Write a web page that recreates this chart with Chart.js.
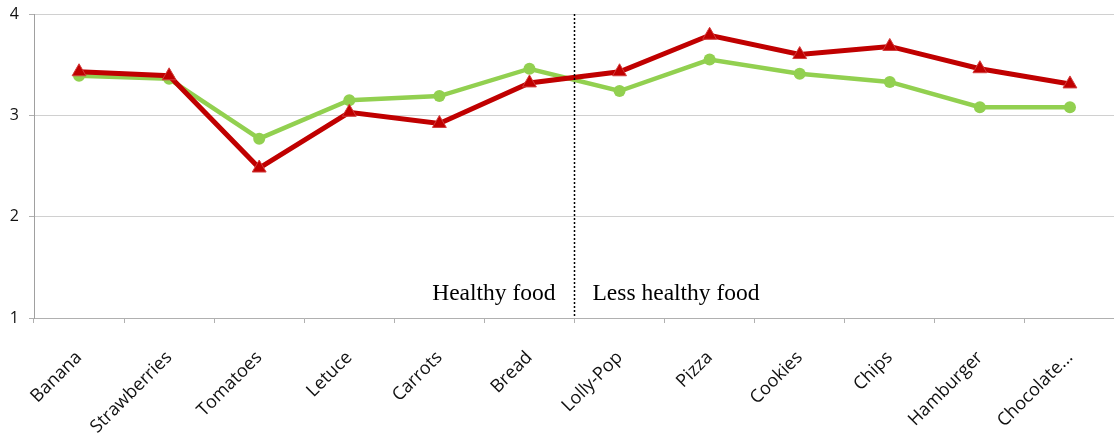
<!DOCTYPE html>
<html>
<head>
<meta charset="utf-8">
<script src="https://cdn.jsdelivr.net/npm/chart.js@4/dist/chart.umd.min.js"></script>
<style>
	html, body { margin: 0; padding: 0; background: #fff; overflow: hidden; }
	#box { width: 1114px; height: 437px; overflow: hidden; }
	#grafico { display: block; }
</style>
</head>
<body>
<div id="box"><canvas id="grafico" width="1124" height="437"></canvas></div>
<script>
var alimentos = ['Banana', 'Strawberries', 'Tomatoes', 'Letuce', 'Carrots', 'Bread',
	'Lolly-Pop', 'Pizza', 'Cookies', 'Chips', 'Hamburger', 'Chocolate...'];
var serieVerde = [3.39, 3.36, 2.77, 3.15, 3.19, 3.46, 3.24, 3.55, 3.41, 3.33, 3.08, 3.08];
var serieVermelha = [3.43, 3.39, 2.48, 3.03, 2.92, 3.32, 3.43, 3.79, 3.60, 3.68, 3.46, 3.31];
var ticksY = [1, 2, 3, 4];
var grupos = ['Healthy food', 'Less healthy food'];
var ultimoSaudavel = 5; // Bread

var divisoria = {
	id: 'divisoria',
	afterDatasetsDraw: function(chart) {
		var ctx = chart.ctx;
		var area = chart.chartArea;
		var x = chart.scales.x;
		var meio = (x.getPixelForValue(ultimoSaudavel) + x.getPixelForValue(ultimoSaudavel + 1)) / 2;
		ctx.save();
		ctx.strokeStyle = '#000';
		ctx.lineWidth = 1.5;
		ctx.setLineDash([2, 2]);
		ctx.beginPath();
		ctx.moveTo(meio, area.top);
		ctx.lineTo(meio, area.bottom);
		ctx.stroke();
		ctx.setLineDash([]);
		ctx.fillStyle = '#000';
		ctx.font = '23.5px "Liberation Serif", serif';
		ctx.textBaseline = 'alphabetic';
		ctx.textAlign = 'right';
		ctx.fillText(grupos[0], meio - 19, area.bottom - 18);
		ctx.textAlign = 'left';
		ctx.fillText(grupos[1], meio + 18, area.bottom - 18);
		ctx.restore();
	}
};

// tira as margens automaticas das escalas, o layout fica so com o padding
function semMargens(escala) {
	escala.paddingTop = 0;
	escala.paddingBottom = 0;
	escala.paddingLeft = 0;
	escala.paddingRight = 0;
}

var grafico = new Chart(document.getElementById('grafico').getContext('2d'), {
	type: 'line',
	data: {
		labels: alimentos,
		datasets: [{
			label: 'Red',
			data: serieVermelha,
			borderColor: '#c00000',
			backgroundColor: '#c00000',
			borderWidth: 5,
			pointStyle: 'triangle',
			pointRadius: 8,
			pointBorderColor: '#d23c3c',
			pointBorderWidth: 1,
			pointBackgroundColor: '#c00000',
			tension: 0,
			fill: false
		}, {
			label: 'Green',
			data: serieVerde,
			borderColor: '#92d050',
			backgroundColor: '#92d050',
			borderWidth: 4.5,
			pointStyle: 'circle',
			pointRadius: 6,
			pointBorderWidth: 0,
			pointBackgroundColor: '#92d050',
			tension: 0,
			fill: false
		}]
	},
	options: {
		responsive: false,
		animation: false,
		layout: { padding: { top: 14, right: 4, left: 0, bottom: 0 } },
		plugins: {
			legend: { display: false },
			tooltip: { enabled: false }
		},
		scales: {
			x: {
				offset: true,
				grid: {
					offset: true,
					drawOnChartArea: false,
					drawTicks: true,
					tickLength: 5,
					color: '#b0b0b0'
				},
				border: { color: '#b0b0b0', width: 1 },
				ticks: {
					minRotation: 45,
					maxRotation: 45,
					autoSkip: false,
					padding: 24,
					color: '#111',
					font: { family: '"Open Sans", sans-serif', size: 18 }
				},
				afterFit: function(escala) {
					escala.height = 119;
					semMargens(escala);
				}
			},
			y: {
				min: ticksY[0],
				max: ticksY[ticksY.length - 1],
				afterBuildTicks: function(escala) {
					escala.ticks = ticksY.map(function(v) { return { value: v }; });
				},
				grid: {
					color: '#d0d0d0',
					tickLength: 5,
					tickColor: '#b0b0b0'
				},
				border: { color: '#a0a0a0', width: 1 },
				ticks: {
					padding: 10,
					color: '#111',
					font: { family: '"Open Sans", sans-serif', size: 16 }
				},
				afterFit: function(escala) {
					escala.width = 34;
					semMargens(escala);
				}
			}
		}
	},
	plugins: [divisoria]
});
</script>
</body>
</html>
